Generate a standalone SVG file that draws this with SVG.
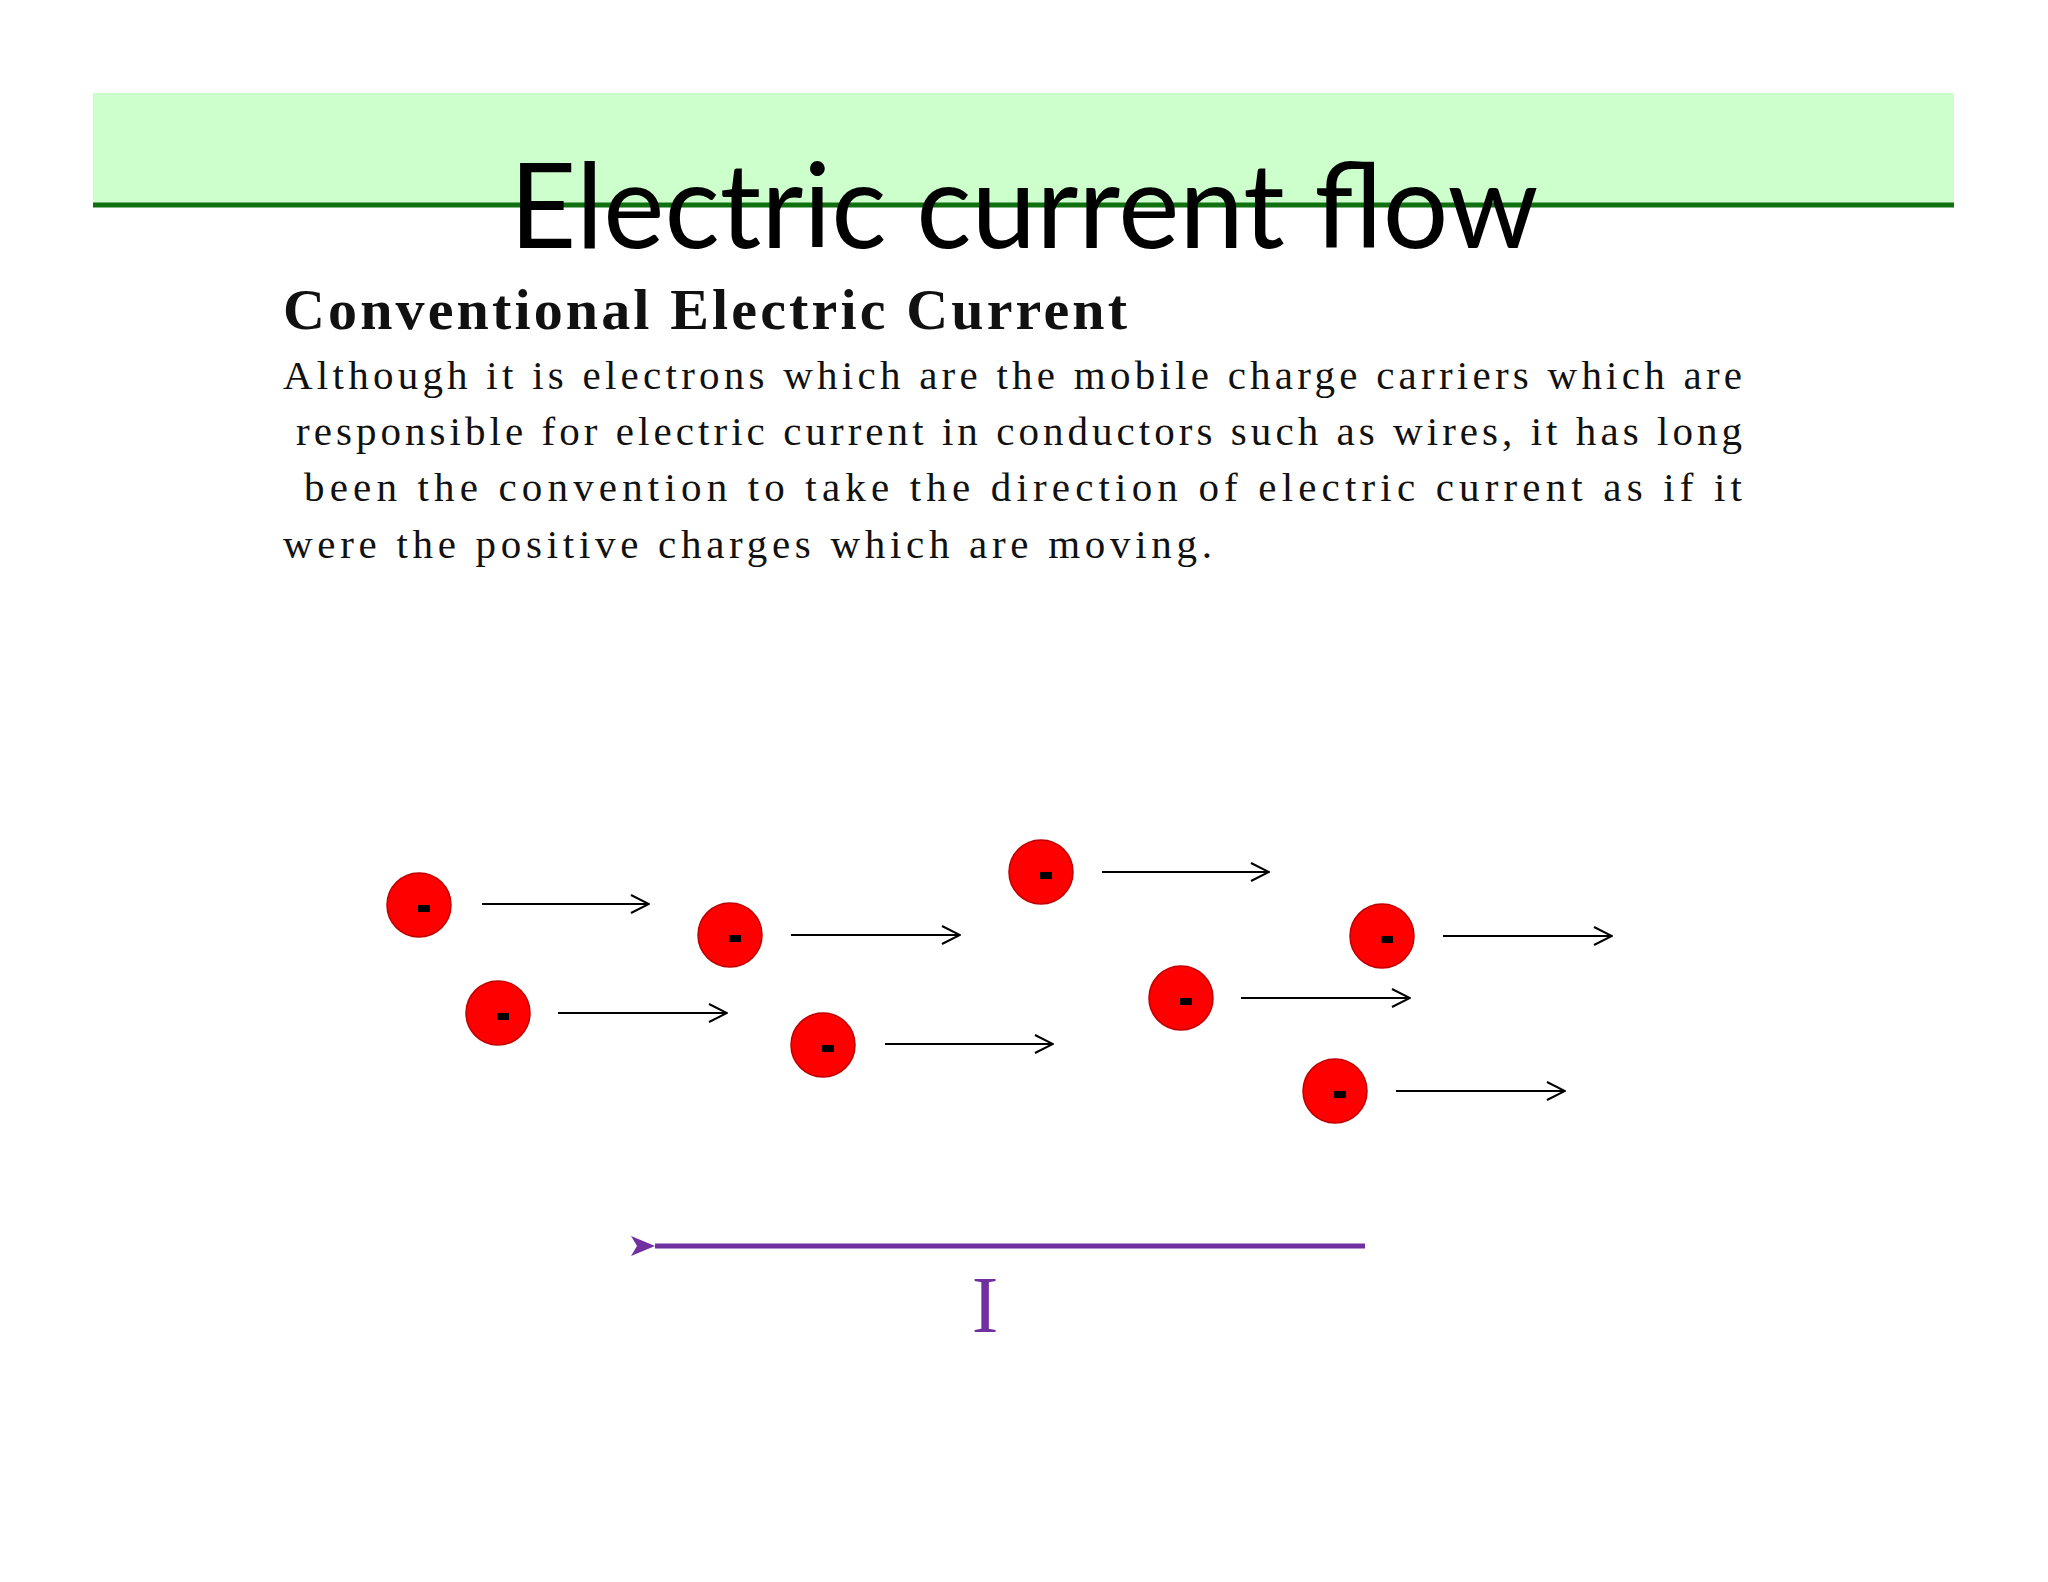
<svg xmlns="http://www.w3.org/2000/svg" width="2048" height="1582" viewBox="0 0 2048 1582">
<style>
.body{font-family:"Liberation Serif",serif;font-size:41px;fill:#111}
.e{fill:#ff0000;stroke:#c00000;stroke-width:1.5}
.m{fill:#000}
.a{stroke:#000;stroke-width:2;fill:none}
</style>
<defs>
<marker id="open" markerWidth="20" markerHeight="20" refX="19" refY="10" orient="auto" markerUnits="userSpaceOnUse"><path d="M1,1 L19,10 L1,19" fill="none" stroke="#000" stroke-width="2"/></marker>
<marker id="tri" markerWidth="28" markerHeight="24" refX="2" refY="12" orient="auto" markerUnits="userSpaceOnUse"><path d="M26,2 L2,12 L26,22 L20,12 Z" fill="#7030a0"/></marker>
</defs>
<rect width="2048" height="1582" fill="#fff"/>
<g id="header">
<rect x="93" y="93" width="1861" height="112" fill="#ccffcc"/>
<line x1="93" y1="205" x2="1954" y2="205" stroke="#107010" stroke-width="5"/>
<text x="1024" y="248" text-anchor="middle" font-family="Lato,'Open Sans',sans-serif" font-size="118" textLength="1029" lengthAdjust="spacingAndGlyphs" fill="#000">Electric current flow</text>
</g>
<g id="text">
<text x="283" y="329" font-family="'Liberation Serif',serif" font-weight="bold" font-size="58" textLength="844" fill="#111">Conventional Electric Current</text>
<text class="body" x="283" y="389" textLength="1459">Although it is electrons which are the mobile charge carriers which are</text>
<text class="body" x="296" y="445" textLength="1446">responsible for electric current in conductors such as wires, it has long</text>
<text class="body" x="304" y="501" textLength="1438" lengthAdjust="spacing">been the convention to take the direction of electric current as if it</text>
<text class="body" x="283" y="558" textLength="929">were  the positive charges which are moving.</text>
</g>
<g id="electrons">
<g id="e1"><circle class="e" cx="419" cy="905" r="32"/><rect class="m" x="418" y="905" width="12" height="7"/></g>
<g id="e2"><circle class="e" cx="730" cy="935" r="32"/><rect class="m" x="729" y="935" width="12" height="7"/></g>
<g id="e3"><circle class="e" cx="1041" cy="872" r="32"/><rect class="m" x="1040" y="872" width="12" height="7"/></g>
<g id="e4"><circle class="e" cx="1382" cy="936" r="32"/><rect class="m" x="1381" y="936" width="12" height="7"/></g>
<g id="e5"><circle class="e" cx="498" cy="1013" r="32"/><rect class="m" x="497" y="1013" width="12" height="7"/></g>
<g id="e6"><circle class="e" cx="823" cy="1045" r="32"/><rect class="m" x="822" y="1045" width="12" height="7"/></g>
<g id="e7"><circle class="e" cx="1181" cy="998" r="32"/><rect class="m" x="1180" y="998" width="12" height="7"/></g>
<g id="e8"><circle class="e" cx="1335" cy="1091" r="32"/><rect class="m" x="1334" y="1091" width="12" height="7"/></g>
</g>
<g id="connectors">
<line class="a" x1="482" y1="904" x2="649" y2="904" marker-end="url(#open)"/>
<line class="a" x1="791" y1="935" x2="960" y2="935" marker-end="url(#open)"/>
<line class="a" x1="1102" y1="872" x2="1269" y2="872" marker-end="url(#open)"/>
<line class="a" x1="1443" y1="936" x2="1612" y2="936" marker-end="url(#open)"/>
<line class="a" x1="558" y1="1013" x2="727" y2="1013" marker-end="url(#open)"/>
<line class="a" x1="885" y1="1044" x2="1053" y2="1044" marker-end="url(#open)"/>
<line class="a" x1="1241" y1="998" x2="1410" y2="998" marker-end="url(#open)"/>
<line class="a" x1="1396" y1="1091" x2="1565" y2="1091" marker-end="url(#open)"/>
<line x1="1365" y1="1246" x2="655" y2="1246" stroke="#7030a0" stroke-width="5" marker-end="url(#tri)"/>
</g>
<g id="label">
<text x="985" y="1332" text-anchor="middle" font-family="'Liberation Serif',serif" font-size="80" fill="#7030a0">I</text>
</g>
</svg>
